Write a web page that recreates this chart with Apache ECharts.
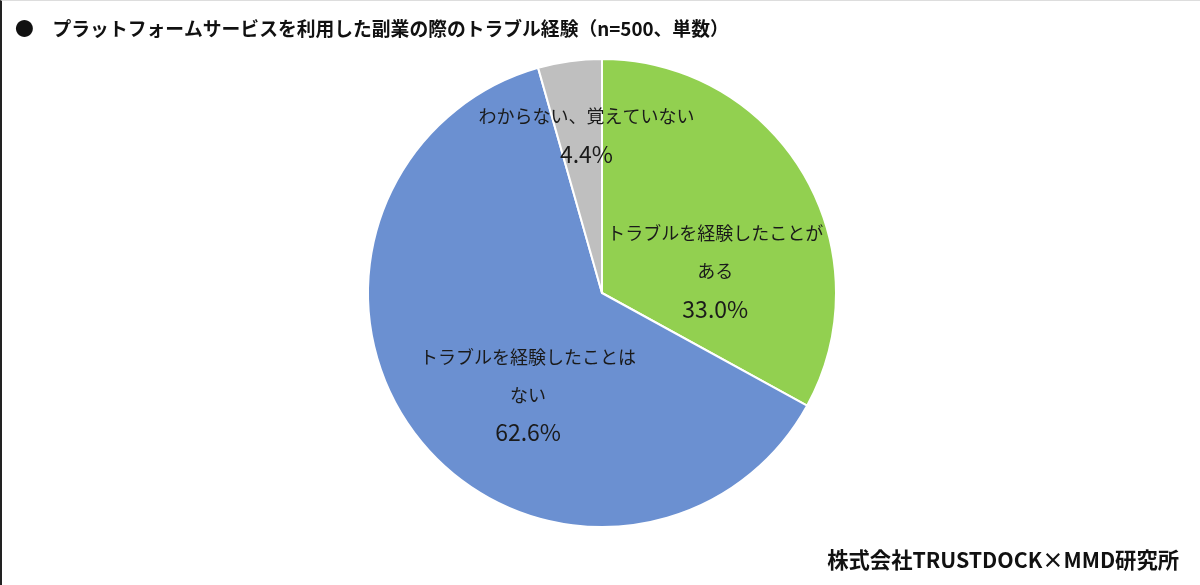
<!DOCTYPE html>
<html>
<head>
<meta charset="utf-8">
<script src="https://cdn.jsdelivr.net/npm/echarts@6/dist/echarts.min.js"></script>
<style>
  html, body { margin: 0; padding: 0; background: #fff; }
  #chart { width: 1200px; height: 585px; box-sizing: border-box; border-left: 2px solid #222; border-top: 1px solid #ddd; }
</style>
</head>
<body>
<div id="chart"></div>
<script>
const titleText = 'プラットフォームサービスを利用した副業の際のトラブル経験（n=500、単数）';
const sourceText = '株式会社TRUSTDOCK×MMD研究所';
const categories = ['トラブルを経験したことがある', 'トラブルを経験したことはない', 'わからない、覚えていない'];
const labelLines = [['トラブルを経験したことが', 'ある'], ['トラブルを経験したことは', 'ない'], ['わからない、覚えていない']];
const values = [33.0, 62.6, 4.4];

const colors = ['#92D050', '#6B90D1', '#BFBFBF'];
const labelShift = [[10, 39], [20, 27], [1, -39]];
const FONT = '"Noto Sans CJK JP", "Noto Sans", sans-serif';

const chart = echarts.init(document.getElementById('chart'), null, { renderer: 'canvas' });
chart.setOption({
  backgroundColor: '#ffffff',
  animation: false,
  title: [
    {
      text: '●\u3000' + titleText,
      left: 8,
      top: 13,
      textStyle: { fontFamily: FONT, fontSize: 18.8, fontWeight: 'bold', color: '#111' }
    },
    {
      text: sourceText,
      right: 16,
      bottom: 9,
      textStyle: { fontFamily: FONT, fontSize: 21.3, fontWeight: 'bold', color: '#111' }
    }
  ],
  series: [{
    type: 'pie',
    center: [600, 292],
    radius: 234,
    startAngle: 90,
    clockwise: true,
    data: categories.map((c, i) => ({
      name: c,
      value: values[i],
      itemStyle: { color: colors[i] }
    })),
    itemStyle: { borderColor: '#ffffff', borderWidth: 2 },
    label: {
      show: true,
      position: 'inside',
      fontFamily: FONT,
      color: '#1a1a1a',
      formatter: p => labelLines[p.dataIndex].map(s => '{a|' + s + '}').join('\n') +
        '\n{p|' + values[p.dataIndex].toFixed(1) + '%}',
      rich: {
        a: { fontFamily: FONT, fontSize: 18, lineHeight: 38, color: '#1a1a1a' },
        p: { fontFamily: FONT, fontSize: 23, lineHeight: 38, color: '#1a1a1a' }
      }
    },
    labelLayout: p => ({ dx: labelShift[p.dataIndex][0], dy: labelShift[p.dataIndex][1] }),
    labelLine: { show: false },
    emphasis: { disabled: true }
  }]
});
</script>
</body>
</html>
